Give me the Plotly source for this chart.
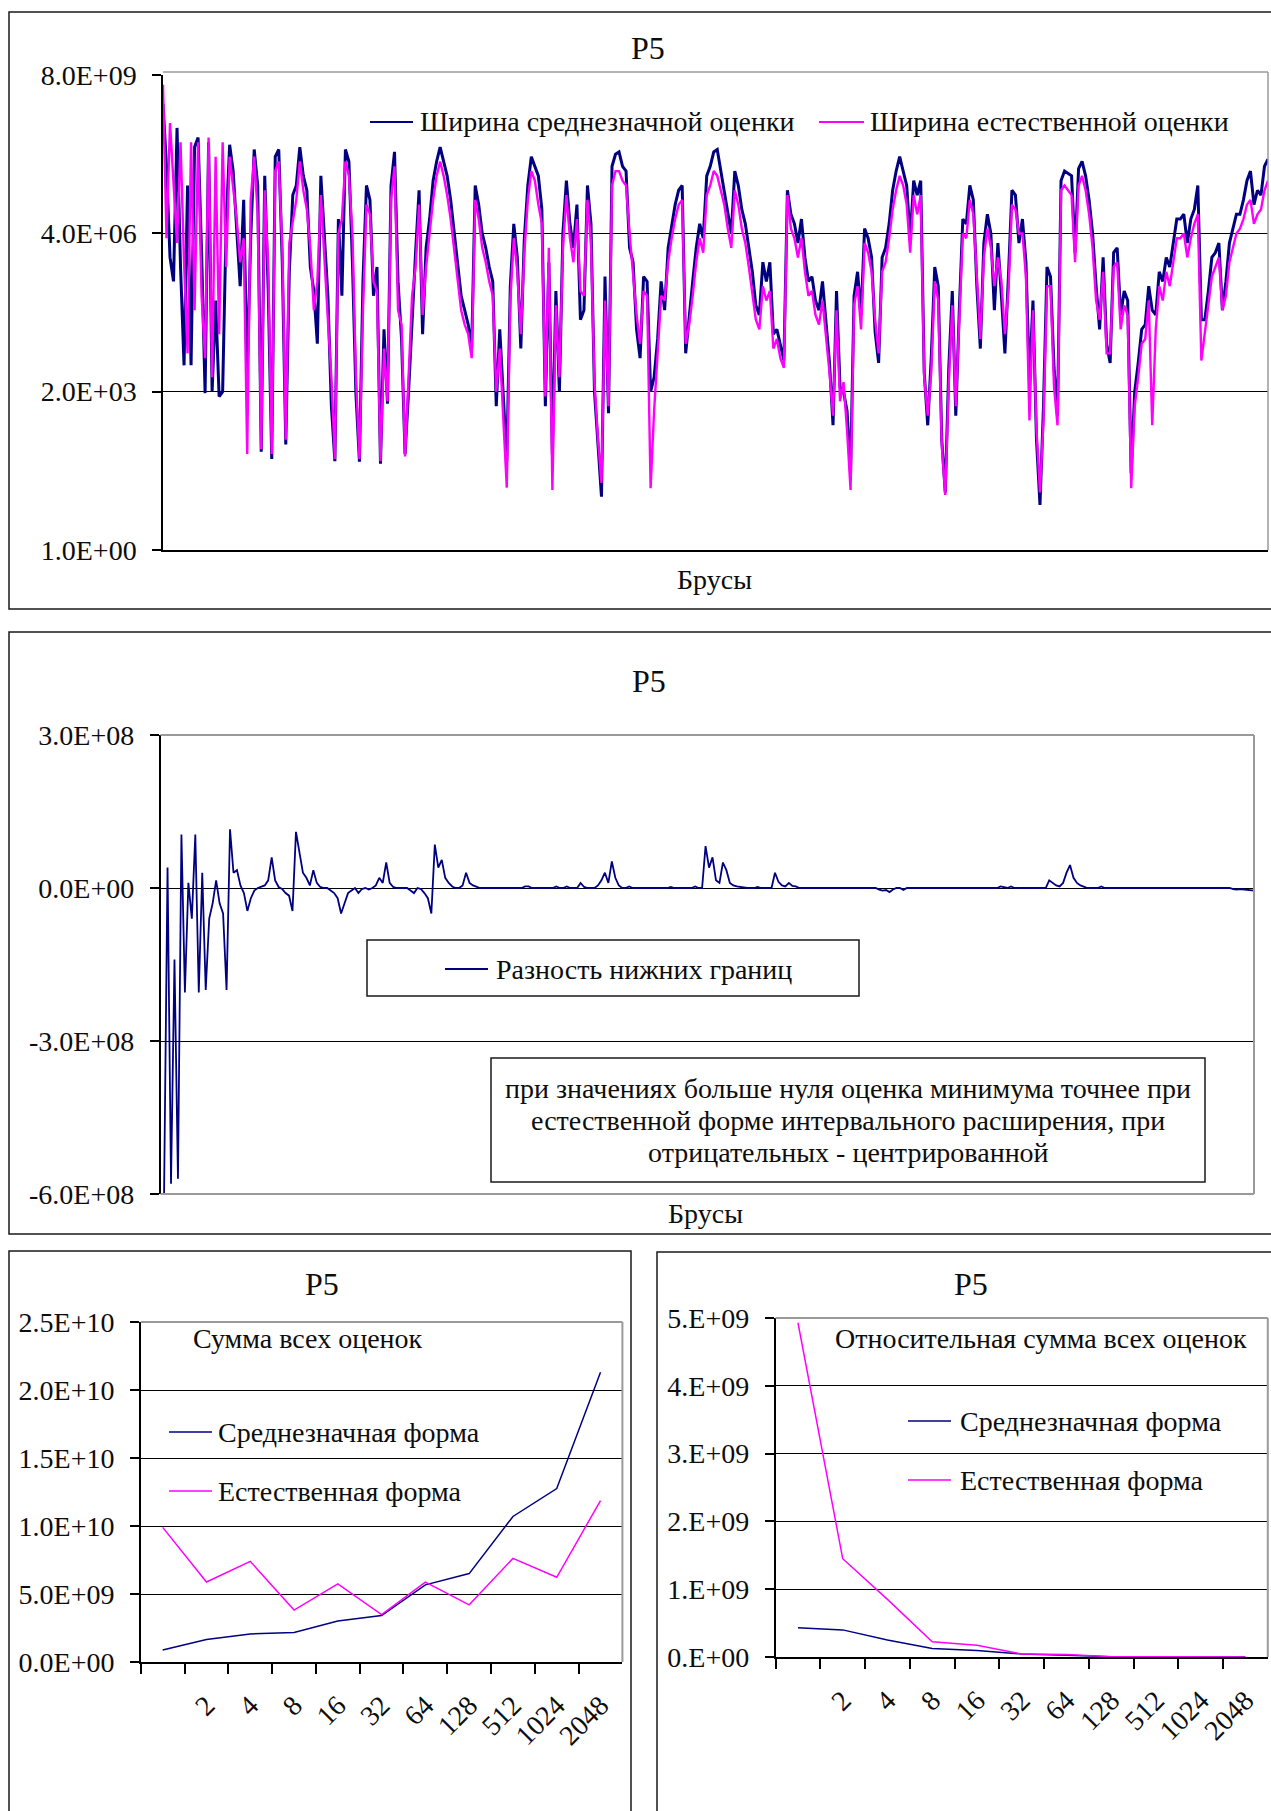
import numpy as np
import plotly.graph_objects as go

# ---------------- data ----------------
# Interval widths per box (log10 of the width), centred-form and natural-form estimates
mean_width_log10 = [
    9.3, 8.0, 6.1, 5.6, 8.8, 5.9, 3.85, 7.6, 3.85, 8.4,
    8.6, 6.2, 3.27, 8.5, 3.3, 5.2, 3.2, 3.3, 6.8, 8.45,
    7.9, 6.6, 5.5, 7.3, 3.6, 6.5, 8.35, 7.6, 2.05, 7.8,
    5.4, 1.9, 8.2, 8.35, 6.0, 2.2, 5.8, 7.4, 7.6, 8.4,
    7.8, 7.5, 5.9, 5.4, 4.3, 7.8, 6.6, 5.3, 3.0, 1.85,
    6.9, 5.3, 8.35, 8.1, 6.0, 3.25, 1.84, 5.6, 7.6, 7.3,
    5.3, 5.9, 1.8, 4.6, 3.05, 7.6, 8.3, 5.6, 4.4, 2.0,
    3.3, 4.9, 6.2, 7.5, 4.5, 6.3, 6.9, 7.7, 8.1, 8.4,
    8.1, 7.8, 7.3, 6.6, 5.9, 5.3, 5.0, 4.7, 4.2, 7.6,
    7.2, 6.6, 6.3, 5.9, 5.6, 3.0, 4.6, 3.1, 1.84, 5.5,
    6.8, 6.1, 4.2, 6.5, 7.6, 8.2, 8.0, 7.8, 7.1, 3.0,
    6.0, 2.0, 5.4, 3.3, 6.6, 7.7, 6.8, 6.3, 7.2, 4.8,
    5.0, 7.6, 6.8, 3.3, 2.2, 1.11, 5.7, 2.85, 8.0, 8.25,
    8.3, 8.0, 7.9, 6.3, 6.0, 4.6, 4.0, 5.7, 5.6, 3.3,
    3.6, 4.4, 5.6, 5.0, 6.3, 6.8, 7.2, 7.5, 7.6, 4.1,
    4.9, 5.6, 6.3, 6.8, 6.5, 7.8, 8.0, 8.3, 8.35, 7.9,
    7.5, 7.0, 6.6, 7.9, 7.6, 7.1, 6.8, 6.3, 5.8, 5.1,
    4.9, 6.0, 5.6, 6.0, 4.5, 4.6, 4.3, 3.95, 7.5, 7.0,
    6.8, 6.4, 6.9, 6.1, 5.6, 5.7, 5.2, 5.0, 5.6, 4.8,
    3.9, 2.6, 5.4, 3.4, 3.3, 2.9, 1.6, 5.3, 5.8, 4.9,
    6.7, 6.5, 6.1, 4.55, 3.9, 6.1, 6.3, 6.8, 7.5, 7.9,
    8.2, 7.9, 7.6, 6.5, 7.7, 7.4, 7.7, 3.7, 2.6, 4.0,
    5.9, 5.5, 2.3, 1.2, 3.8, 5.4, 2.8, 5.0, 6.9, 6.8,
    7.6, 7.3, 5.5, 4.2, 6.4, 7.0, 6.6, 5.0, 6.4, 5.3,
    4.1, 5.7, 7.5, 7.4, 6.4, 6.9, 6.0, 3.5, 5.2, 2.3,
    0.94, 3.0, 5.9, 5.7, 3.8, 2.8, 7.7, 7.9, 7.85, 7.8,
    6.2, 7.95, 8.1, 7.8, 7.3, 6.6, 5.5, 4.6, 6.1, 4.3,
    3.9, 6.2, 6.3, 4.9, 5.4, 5.2, 1.6, 3.3, 3.9, 4.6,
    4.7, 5.5, 5.0, 4.9, 5.8, 5.6, 6.1, 5.9, 6.4, 6.9,
    6.9, 7.0, 6.4, 6.9, 7.1, 7.6, 4.8, 4.8, 5.4, 6.1,
    6.2, 6.4, 5.0, 5.6, 6.4, 6.7, 7.0, 7.0, 7.3, 7.7,
    7.9, 7.2, 7.5, 7.4, 8.0, 8.15,
]
natural_width_log10 = [
    9.7, 6.5, 8.9, 7.6, 6.4, 8.5, 6.0, 4.1, 8.5, 5.0,
    8.5, 5.3, 4.0, 8.6, 3.6, 8.2, 4.5, 8.5, 5.9, 8.2,
    7.6, 6.9, 6.0, 6.5, 2.0, 7.3, 8.2, 7.0, 2.1, 7.5,
    5.9, 2.0, 7.9, 8.1, 6.3, 2.3, 6.4, 6.9, 7.3, 8.1,
    7.5, 7.1, 6.3, 5.0, 5.6, 7.4, 6.0, 4.8, 3.6, 1.9,
    6.6, 6.9, 8.1, 7.8, 6.6, 3.6, 1.9, 5.0, 7.2, 7.0,
    5.6, 5.4, 1.85, 4.2, 3.1, 7.3, 8.0, 5.0, 4.7, 1.95,
    3.6, 5.3, 5.9, 7.2, 4.9, 5.9, 6.6, 7.3, 7.8, 8.1,
    7.8, 7.4, 6.9, 6.3, 5.6, 5.0, 4.7, 4.5, 4.0, 7.3,
    6.9, 6.3, 6.0, 5.6, 5.3, 3.3, 4.2, 2.6, 1.3, 5.2,
    6.5, 5.8, 4.5, 6.2, 7.3, 7.9, 7.7, 7.2, 6.8, 3.2,
    6.3, 1.25, 5.1, 3.6, 6.3, 7.4, 6.5, 6.0, 6.9, 5.4,
    5.3, 7.3, 6.4, 3.5, 2.3, 1.4, 5.2, 3.0, 7.6, 7.9,
    7.9, 7.7, 7.6, 6.6, 5.7, 4.9, 4.3, 5.4, 5.3, 1.29,
    2.9, 4.1, 5.3, 5.2, 6.0, 6.5, 6.9, 7.2, 7.3, 4.3,
    4.7, 5.3, 6.0, 6.5, 6.2, 7.4, 7.6, 7.9, 7.8, 7.5,
    7.2, 6.7, 6.3, 7.5, 7.2, 6.7, 6.4, 5.9, 5.4, 4.8,
    4.6, 5.5, 5.2, 5.4, 4.2, 4.4, 4.0, 3.8, 7.4, 6.7,
    6.5, 6.1, 6.5, 5.8, 5.3, 5.4, 4.9, 4.7, 5.2, 4.5,
    3.7, 2.8, 5.0, 3.1, 3.5, 2.5, 1.25, 5.1, 5.5, 4.6,
    6.4, 6.2, 5.8, 4.8, 4.1, 5.8, 6.0, 6.5, 7.1, 7.5,
    7.8, 7.6, 7.2, 6.2, 7.4, 7.0, 7.4, 3.6, 2.8, 3.7,
    5.6, 5.2, 2.2, 1.15, 3.5, 5.1, 3.0, 4.8, 6.6, 6.5,
    7.3, 7.0, 5.8, 4.4, 6.1, 6.7, 6.3, 5.5, 6.1, 5.6,
    4.5, 5.4, 7.2, 7.1, 6.6, 6.6, 5.7, 2.7, 5.0, 2.5,
    1.2, 2.7, 5.5, 5.5, 3.4, 2.6, 7.5, 7.6, 7.5, 7.4,
    6.0, 7.6, 7.8, 7.5, 7.0, 6.3, 5.2, 4.8, 5.8, 4.1,
    4.1, 5.9, 6.0, 4.6, 5.1, 4.9, 1.29, 3.0, 3.6, 4.3,
    4.4, 5.2, 2.6, 4.6, 5.5, 5.2, 5.8, 5.5, 6.0, 6.5,
    6.5, 6.6, 6.1, 6.5, 6.8, 7.0, 3.95, 4.5, 5.1, 5.7,
    5.9, 6.1, 5.0, 5.3, 6.0, 6.3, 6.6, 6.7, 6.9, 7.2,
    7.3, 6.8, 7.0, 7.1, 7.5, 7.7,
]

# Difference of lower bounds per box, in units of 1e8
lower_bound_diff_1e8 = [
    -6.0, -6.0, 0.4, -5.8, -1.4, -5.7, 1.05, -2.05, 0.1, -0.6,
    1.05, -2.05, 0.3, -2.0, -0.6, -0.3, 0.15, -0.3, -0.5, -2.0,
    1.15, 0.3, 0.35, 0.05, -0.1, -0.45, -0.2, -0.05, 0, 0.02,
    0.05, 0.15, 0.6, 0.15, 0.02, -0.02, -0.1, -0.15, -0.45, 1.1,
    0.7, 0.3, 0.2, 0.05, 0.35, 0.1, 0.02, 0, 0, -0.05,
    -0.1, -0.2, -0.5, -0.3, -0.1, -0.05, 0, -0.1, -0.02, 0,
    -0.03, 0, 0.05, 0.2, 0.1, 0.5, 0.1, 0.02, 0, 0,
    0, 0, -0.05, -0.1, 0, -0.02, -0.1, -0.2, -0.5, 0.85,
    0.4, 0.55, 0.2, 0.1, 0.03, 0, 0, 0.05, 0.3, 0.1,
    0.05, 0.02, 0, 0, 0, 0, 0, 0, 0, 0,
    0, 0, 0, 0, 0, 0.03, 0.03, 0, 0, 0,
    0, 0, 0, 0, 0.03, 0, 0, 0.03, 0, 0,
    0, 0.1, 0.02, 0, 0, 0, 0.05, 0.15, 0.3, 0.1,
    0.52, 0.2, 0.05, 0, 0, 0.03, 0, 0, 0, 0,
    0, 0, 0, 0, 0, 0, 0, 0.02, 0, 0,
    0, 0, 0, 0, 0.03, 0, 0, 0.82, 0.4, 0.6,
    0.15, 0.1, 0.5, 0.35, 0.1, 0.05, 0.03, 0.02, 0, 0,
    0, 0, 0.02, 0, 0, 0, 0, 0.3, 0.12, 0.05,
    0.03, 0.1, 0.04, 0.03, 0, 0, 0, 0, 0, 0,
    0, 0, 0, 0, 0, 0, 0, 0, 0, 0,
    0, 0, 0, 0, 0, 0, 0, -0.03, -0.05, -0.04,
    -0.08, -0.03, 0, 0, -0.04, 0, 0, 0, 0, 0,
    0, 0, 0, 0, 0, 0, 0, 0, 0, 0,
    0, 0, 0, 0, 0, 0, 0, 0, 0, 0,
    0, 0, 0.03, 0.02, 0, 0.03, 0, 0, 0, 0,
    0, 0, 0, 0, 0, 0, 0.15, 0.1, 0.05, 0.03,
    0.1, 0.3, 0.45, 0.2, 0.1, 0.05, 0.02, 0, 0, 0,
    0, 0.03, 0, 0, 0, 0, 0, 0, 0, 0,
    0, 0, 0, 0, 0, 0, 0, 0, 0, 0,
    0, 0, 0, 0, 0, 0, 0, 0, 0, 0,
    0, 0, 0, 0, 0, 0, 0, 0, 0, -0.02,
    -0.03, -0.02, -0.03, -0.03, -0.04, -0.05,
]

# Sums of all estimates by subdivision depth
depth_labels = [" ", "2", "4", "8", "16", "32", "64", "128", "512", "1024", "2048"]
sum_mean_form = [0.88e9, 1.66e9, 2.06e9, 2.17e9, 3.02e9, 3.42e9,
                 5.67e9, 6.5e9, 10.7e9, 12.75e9, 21.3e9]
sum_natural_form = [9.9e9, 5.88e9, 7.4e9, 3.82e9, 5.75e9, 3.48e9,
                    5.88e9, 4.2e9, 7.62e9, 6.23e9, 11.87e9]
rel_sum_mean_form = [0.43e9, 0.40e9, 0.25e9, 0.124e9, 0.097e9, 0.043e9,
                     0.027e9, 0.005e9, 0.001e9, 0.0005e9, 0.0002e9]
rel_sum_natural_form = [4.93e9, 1.45e9, 0.85e9, 0.226e9, 0.172e9, 0.043e9,
                        0.038e9, 0.005e9, 0.002e9, 0.001e9, 0.0005e9]

# Axis ticks
width_ticks = [1, 2e3, 4e6, 8e9]
width_tick_text = ["1.0E+00", "2.0E+03", "4.0E+06", "8.0E+09"]
diff_ticks = [-6e8, -3e8, 0, 3e8]
diff_tick_text = ["-6.0E+08", "-3.0E+08", "0.0E+00", "3.0E+08"]
sum_ticks = [0, 5e9, 1e10, 1.5e10, 2e10, 2.5e10]
sum_tick_text = ["0.0E+00", "5.0E+09", "1.0E+10", "1.5E+10", "2.0E+10", "2.5E+10"]
rel_ticks = [0, 1e9, 2e9, 3e9, 4e9, 5e9]
rel_tick_text = ["0.E+00", "1.E+09", "2.E+09", "3.E+09", "4.E+09", "5.E+09"]

# ---------------- styling ----------------
W, H = 1271, 1811
FONT = "Liberation Serif"
INK = "#0d0d0d"
NAVY = "#000080"
MAGENTA = "#FF00FF"
GREY = "#9a9a9a"


def fx(x):
    return x / W


def fy(y):
    return 1 - y / H


tick_font = dict(family=FONT, size=28, color=INK)

fig = go.Figure()

# Top panel: interval widths on a log axis
n_top = len(mean_width_log10)
fig.add_trace(go.Scatter(x=list(range(n_top)), y=np.power(10.0, mean_width_log10),
                         mode="lines", line=dict(color=NAVY, width=3.0),
                         xaxis="x", yaxis="y", hoverinfo="skip"))
fig.add_trace(go.Scatter(x=list(range(len(natural_width_log10))),
                         y=np.power(10.0, natural_width_log10),
                         mode="lines", line=dict(color=MAGENTA, width=2.4),
                         xaxis="x", yaxis="y", hoverinfo="skip"))

# Middle panel: lower-bound difference
n_mid = len(lower_bound_diff_1e8)
fig.add_trace(go.Scatter(x=list(range(n_mid)), y=np.array(lower_bound_diff_1e8) * 1e8,
                         mode="lines", line=dict(color=NAVY, width=1.8),
                         xaxis="x2", yaxis="y2", hoverinfo="skip"))

# Bottom panels: sums by depth
fig.add_trace(go.Scatter(x=depth_labels, y=sum_mean_form, mode="lines",
                         line=dict(color=NAVY, width=1.5), xaxis="x3", yaxis="y3"))
fig.add_trace(go.Scatter(x=depth_labels, y=sum_natural_form, mode="lines",
                         line=dict(color=MAGENTA, width=1.5), xaxis="x3", yaxis="y3"))
fig.add_trace(go.Scatter(x=depth_labels, y=rel_sum_mean_form, mode="lines",
                         line=dict(color=NAVY, width=1.5), xaxis="x4", yaxis="y4"))
fig.add_trace(go.Scatter(x=depth_labels, y=rel_sum_natural_form, mode="lines",
                         line=dict(color=MAGENTA, width=1.5), xaxis="x4", yaxis="y4"))


def value_axis(domain, anchor, **kw):
    return dict(domain=domain, anchor=anchor, showline=True, linecolor="black",
                linewidth=1.5, ticks="outside", ticklen=9, tickwidth=1.5,
                tickcolor="black", showgrid=True, gridcolor="black", gridwidth=1.2,
                zeroline=False, tickfont=tick_font, ticklabelstandoff=10,
                automargin=False, fixedrange=True, **kw)


def plain_x(domain, anchor, n):
    return dict(domain=domain, anchor=anchor, range=[0, n - 1], showline=False,
                showticklabels=False, ticks="", showgrid=False, zeroline=False,
                automargin=False, fixedrange=True)


def depth_x(domain, anchor):
    return dict(domain=domain, anchor=anchor, type="category", range=[-0.5, 10.5],
                tickson="boundaries", ticks="outside", ticklen=10, tickwidth=1.5,
                tickcolor="black", showline=True, linecolor="black", linewidth=1.5,
                tickangle=-45, tickfont=tick_font, showgrid=False, zeroline=False,
                ticklabelstandoff=14, automargin=False, fixedrange=True)


top_x = plain_x([fx(163), fx(1268)], "y", n_top)
top_x.update(showline=True, linecolor="black", linewidth=1.5)

fig.update_layout(
    template="none",
    width=W, height=H, margin=dict(l=0, r=0, t=0, b=0, pad=0, autoexpand=False),
    paper_bgcolor="white", plot_bgcolor="white", showlegend=False,
    xaxis=top_x,
    yaxis=value_axis([fy(550), fy(75)], "x", type="log",
                     range=[0, np.log10(8e9)], tickvals=width_ticks,
                     ticktext=width_tick_text),
    xaxis2=plain_x([fx(160.6), fx(1254)], "y2", n_mid),
    yaxis2=value_axis([fy(1194), fy(735)], "x2", range=[-6e8, 3e8],
                      tickvals=diff_ticks, ticktext=diff_tick_text),
    xaxis3=depth_x([fx(140.8), fx(622.4)], "y3"),
    yaxis3=value_axis([fy(1662), fy(1322)], "x3", range=[0, 2.5e10],
                      tickvals=sum_ticks, ticktext=sum_tick_text),
    xaxis4=depth_x([fx(775.6), fx(1267.8)], "y4"),
    yaxis4=value_axis([fy(1657), fy(1318)], "x4", range=[0, 5e9],
                      tickvals=rel_ticks, ticktext=rel_tick_text),
)

# ---------------- frames, legends, texts ----------------
shapes = []


def line(x0, y0, x1, y1, color, width):
    shapes.append(dict(type="line", xref="paper", yref="paper",
                       x0=fx(x0), y0=fy(y0), x1=fx(x1), y1=fy(y1),
                       line=dict(color=color, width=width)))


def rect(x0, y0, x1, y1, color="#1a1a1a", width=1.5):
    shapes.append(dict(type="rect", xref="paper", yref="paper",
                       x0=fx(x0), y0=fy(y0), x1=fx(x1), y1=fy(y1),
                       line=dict(color=color, width=width),
                       fillcolor="rgba(0,0,0,0)"))


# chart-area frames
rect(9, 12, 1290, 609)
rect(9, 632, 1290, 1234)
rect(9, 1251, 631, 1830)
rect(657, 1252, 1290, 1830)

# plot-area borders (grey)
line(163, 72, 1268, 72, GREY, 1.5)
line(1268, 72, 1268, 550, GREY, 1.5)
line(160.6, 735, 1254, 735, GREY, 2)
line(1254, 735, 1254, 1194, GREY, 2)
line(160.6, 1194, 1254, 1194, GREY, 2)
line(140.8, 1322, 622.4, 1322, GREY, 2)
line(622.4, 1322, 622.4, 1662, GREY, 2)
line(775.6, 1318, 1267.8, 1318, GREY, 2)
line(1267.8, 1318, 1267.8, 1657, GREY, 2)

# legend samples
line(370, 122, 413, 122, NAVY, 2)
line(819, 122, 864, 122, MAGENTA, 2)
rect(367, 940, 859, 996)
line(445, 969, 488, 969, NAVY, 2)
rect(491, 1058, 1205, 1182)
line(169, 1432, 212, 1432, NAVY, 1.5)
line(169, 1491, 212, 1491, MAGENTA, 1.5)
line(908, 1421, 951, 1421, NAVY, 1.5)
line(908, 1480, 951, 1480, MAGENTA, 1.5)

annotations = []


def label(text, x, y, anchor="center", size=28):
    annotations.append(dict(text=text, x=fx(x), y=fy(y), xref="paper", yref="paper",
                            xanchor=anchor, yanchor="middle", showarrow=False,
                            font=dict(family=FONT, size=size, color=INK)))


label("P5", 648, 48, size=32)
label("Ширина среднезначной оценки", 418, 122, "left")
label("Ширина естественной оценки", 868, 122, "left")
label("Брусы", 714, 579)

label("P5", 649, 681, size=32)
label("Разность нижних границ", 494, 969, "left")
label("при значениях больше нуля оценка минимума точнее при", 848, 1088)
label("естественной форме интервального расширения, при", 848, 1120)
label("отрицательных - центрированной", 848, 1152)
label("Брусы", 705, 1213)

label("P5", 322, 1284, size=32)
label("Сумма всех оценок", 191, 1338, "left")
label("Среднезначная форма", 216, 1432, "left")
label("Естественная форма", 216, 1491, "left")

label("P5", 971, 1284, size=32)
label("Относительная сумма всех оценок", 833, 1338, "left")
label("Среднезначная форма", 958, 1421, "left")
label("Естественная форма", 958, 1480, "left")

fig.update_layout(shapes=shapes, annotations=annotations)

fig.write_html("out.html")
